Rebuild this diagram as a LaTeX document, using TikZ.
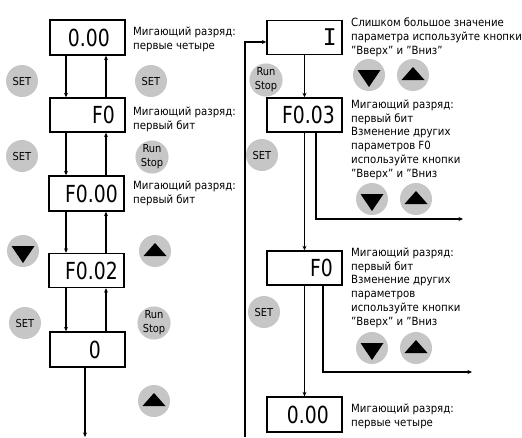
\documentclass[tikz,border=0pt]{standalone}
\usepackage{fontspec}
\setmainfont{DejaVu Sans Condensed}
\newfontfamily\dispf{DejaVu Sans}[FakeStretch=0.8]
\newfontfamily\monof{DejaVu Sans Mono}
\usetikzlibrary{arrows.meta}
\definecolor{btngray}{RGB}{198,198,198}
\begin{document}
\begin{tikzpicture}[x=1pt,y=-1pt,
 disp/.style={draw, line width=1.4pt, minimum width=75pt, minimum height=35pt, inner sep=0},
 dtxt/.style={font=\dispf\fontsize{23.5}{23.5}\selectfont, inner sep=0, anchor=east},
 lab/.style={font=\fontsize{11.3}{13.8}\selectfont, align=left, anchor=north west, inner sep=0},
 btn/.style={circle, fill=btngray, minimum size=32pt, inner sep=0, font=\fontsize{11}{11}\selectfont},
 rsbtn/.style={btn, align=center, font=\fontsize{11}{14}\selectfont},
 arr/.style={line width=1.2pt, -{Stealth[length=4.5pt,width=4pt]}},
 tri/.style={fill=black}
]
\useasboundingbox (0,0) rectangle (522,437);
% helper coordinates
\coordinate (xl1) at (66,0);
\coordinate (xl2) at (106,0);
\coordinate (xr1) at (316,0);
\coordinate (xr2) at (323,0);
\coordinate (e1) at (85,437);
\coordinate (lb) at (245,437);
\coordinate (o1) at (463,219);
\coordinate (o2) at (472,372);
% left column boxes
\node[disp] (b1) at (87.5,37.5) {};
\node[dtxt] (t1) at (110,37.5) {0.00};
\node[disp, minimum height=34pt] (b2) at (87.5,115) {};
\node[dtxt] (t2) at (115,115) {F0};
\node[disp] (b3) at (86.5,193.5) {};
\node[dtxt] (t3) at (118,193.5) {F0.00};
\node[disp, minimum height=34pt] (b4) at (86.5,270.5) {};
\node[dtxt] (t4) at (118,270.5) {F0.02};
\node[disp] (b5) at (87.5,349.5) {};
\node[dtxt] (t5) at (101,349.5) {0};
% right column boxes
\node[disp, minimum height=34pt] (r1) at (304.5,37.5) {};
\node[dtxt, font=\monof\fontsize{23}{23}\selectfont] (tr1) at (337,37.5) {I};
\node[disp, minimum height=34pt] (r2) at (304.5,115) {};
\node[dtxt] (tr2) at (335,115) {F0.03};
\node[disp, minimum height=34pt] (r3) at (304.5,268) {};
\node[dtxt] (tr3) at (333,268) {F0};
\node[disp] (r4) at (304.5,414.5) {};
\node[dtxt] (tr4) at (329,414.5) {0.00};
% left arrows
\foreach \a/\b in {b1/b2,b2/b3,b3/b4,b4/b5}{
  \draw[arr] (\a.south -| xl1) -- (\b.north -| xl1);
  \draw[arr] (\b.north -| xl2) -- (\a.south -| xl2);
}
\draw[arr] (b5.south -| e1) -- (e1);
% right arrows
\draw[arr] (lb) |- ([yshift=-4.5pt]r1.west);
\draw[arr] (r1.south) -- (r2.north);
\draw[arr] (r2.south) -- (r3.north);
\draw[arr] (r3.south) -- (r4.north);
\draw[arr] (r2.south -| xr1) |- (o1);
\draw[arr] (r3.south -| xr2) |- (o2);
% buttons
\node[btn] (s1) at (22,81) {SET};
\node[btn] (s2) at (151,81) {SET};
\node[btn] (s3) at (22,156) {SET};
\node[rsbtn] (rs1) at (152,157) {Run\\Stop};
\node[btn] (d1) at (23,251) {};
\node[btn] (u1) at (155,251) {};
\node[btn] (s4) at (25,323) {SET};
\node[rsbtn] (rs2) at (154,323) {Run\\Stop};
\node[btn] (u2) at (154,401) {};
\node[rsbtn] (rs3) at (266,80) {Run\\Stop};
\node[btn] (d2) at (369,75) {};
\node[btn] (u3) at (413,75) {};
\node[btn] (s5) at (262,155) {SET};
\node[btn] (d3) at (372,199) {};
\node[btn] (u4) at (416,199) {};
\node[btn] (s6) at (264,312) {SET};
\node[btn] (d4) at (372,348) {};
\node[btn] (u5) at (416,348) {};
% triangles
\foreach \n in {d1,d2,d3,d4}{
  \fill[tri] (\n.center) +(-11.5,-5) -- +(11.5,-5) -- +(0,12) -- cycle;
}
\foreach \n in {u1,u2,u3,u4,u5}{
  \fill[tri] (\n.center) +(0,-8) -- +(-11.5,5) -- +(11.5,5) -- cycle;
}
% labels
\node[lab] (l1) at (133,26.5) {Мигающий разряд:\\первые четыре};
\node[lab] (l2) at (133,106.5) {Мигающий разряд:\\первый бит};
\node[lab] (l3) at (133,180.5) {Мигающий разряд:\\первый бит};
\node[lab] (l4) at (351,17.5) {Слишком большое значение\\параметра используйте кнопки\\"Вверх" и "Вниз"};
\node[lab] (l5) at (351,99.5) {Мигающий разряд:\\первый бит\\Взменение других\\параметров F0\\используйте кнопки\\"Вверх" и "Вниз};
\node[lab] (l6) at (351,247.5) {Мигающий разряд:\\первый бит\\Взменение других\\параметров\\используйте кнопки\\"Вверх" и "Вниз};
\node[lab] (l7) at (351,403.5) {Мигающий разряд:\\первые четыре};
\end{tikzpicture}
\end{document}
